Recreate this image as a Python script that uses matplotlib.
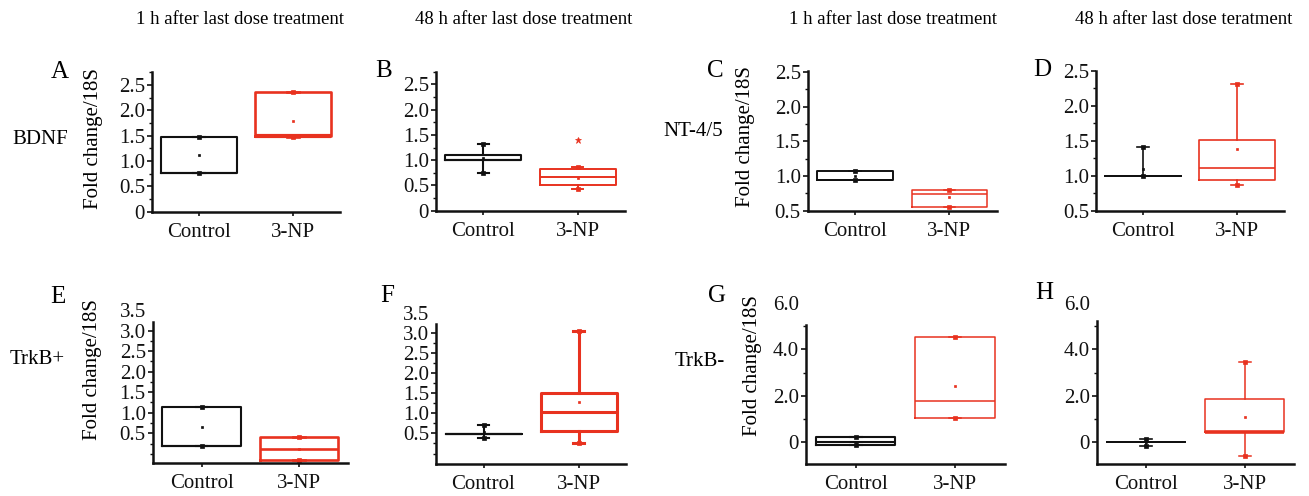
import matplotlib
matplotlib.use("Agg")
import matplotlib.pyplot as plt

plt.rcParams['font.family'] = ['Liberation Serif', 'DejaVu Serif']

W, H = 1309, 496

groups = ["Control", "3-NP"]
panels = ["A", "B", "C", "D", "E", "F", "G", "H"]
col_titles = ["1 h after last dose treatment", "48 h after last dose treatment",
              "1 h after last dose treatment", "48 h after last dose teratment"]
row_labels = ["BDNF", "NT-4/5", "TrkB+", "TrkB-"]

# box statistics, one value per panel A..H
ctrl_q1 = [0.76, 1.00, 0.94, 1.00, 0.20, 0.48, -0.14, 0.00]
ctrl_med = [0.76, 1.00, 0.94, 1.00, 0.20, 0.48, 0.00, 0.00]
ctrl_q3 = [1.47, 1.11, 1.08, 1.00, 1.13, 0.48, 0.19, 0.00]
ctrl_lo = [0.76, 0.74, 0.94, 1.00, 0.20, 0.38, -0.14, -0.14]
ctrl_hi = [1.47, 1.32, 1.08, 1.41, 1.13, 0.71, 0.19, 0.14]
ctrl_mean = [1.11, 1.04, 1.00, 1.09, 0.66, 0.54, 0.00, 0.03]

np_q1 = [1.49, 0.50, 0.56, 0.94, -0.15, 0.55, 1.04, 0.46]
np_med = [1.50, 0.66, 0.74, 1.11, 0.11, 1.02, 1.76, 0.46]
np_q3 = [2.36, 0.82, 0.80, 1.51, 0.42, 1.50, 4.53, 1.87]
np_lo = [1.47, 0.43, 0.56, 0.87, -0.15, 0.27, 1.04, -0.57]
np_hi = [2.37, 0.87, 0.80, 2.31, 0.42, 3.05, 4.53, 3.47]
np_mean = [1.79, 0.65, 0.70, 1.38, 0.13, 1.28, 2.41, 1.10]
np_out = [[], [1.40], [], [], [], [], [], []]

# y axes
ylims = [(0, 2.76), (0, 2.75), (0.5, 2.52), (0.5, 2.5),
         (-0.23, 3.5), (-0.26, 3.5), (-0.96, 6.0), (-0.94, 6.0)]
spine_top = [2.76, 2.75, 2.52, 2.5, 3.22, 3.23, 5.07, 5.2]
ticks_ab = [0, 0.5, 1.0, 1.5, 2.0, 2.5]
ticks_cd = [0.5, 1.0, 1.5, 2.0, 2.5]
ticks_ef = [0.5, 1.0, 1.5, 2.0, 2.5, 3.0, 3.5]
ticks_gh = [0, 2, 4, 6]
labels_ab = ["0", "0.5", "1.0", "1.5", "2.0", "2.5"]
labels_cd = ["0.5", "1.0", "1.5", "2.0", "2.5"]
labels_ef = ["0.5", "1.0", "1.5", "2.0", "2.5", "3.0", "3.5"]
labels_gh = ["0", "2.0", "4.0", "6.0"]
minor_ab = [0.25, 0.75, 1.25, 1.75, 2.25, 2.75]
minor_cd = [0.75, 1.25, 1.75, 2.25]
minor_ef = [0, 0.25, 0.75, 1.25, 1.75, 2.25, 2.75]
minor_gh = [1, 3, 5]
majors = [ticks_ab, ticks_ab, ticks_cd, ticks_cd, ticks_ef, ticks_ef, ticks_gh, ticks_gh]
major_labels = [labels_ab, labels_ab, labels_cd, labels_cd, labels_ef, labels_ef, labels_gh, labels_gh]
minors = [minor_ab, minor_ab, minor_cd, minor_cd, minor_ef, minor_ef, minor_gh, minor_gh]

# layout in pixels: left, right, bottom, top
ax_px = [(152, 340, 211.7, 71.8), (436, 625, 210.7, 71.7),
         (807.7, 996.7, 210.7, 70.7), (1096, 1284, 210.7, 70.7),
         (152.7, 348, 463.3, 310), (436, 626, 464, 312.7),
         (805.7, 1005, 464, 303.3), (1096.7, 1294, 464.3, 302.7)]
letter_px = [(60, 72), (384, 71), (715, 71), (1042, 70),
             (58, 297), (387, 296), (717, 296), (1044, 293)]
ylabel_xy = {"A": (-0.26, 0.525), "C": (-0.279, 0.529),
             "E": (-0.261, 0.609), "G": (-0.221, 0.611)}

black = "#111111"
red = "#e8321f"
lw_ctrl = [1.5, 1.5, 1.4, 1.2, 1.5, 1.5, 1.5, 1.2]
lw_np = [1.9, 1.4, 1.1, 1.2, 1.9, 2.2, 1.1, 1.1]
mlw_np = [3.0, 1.4, 1.1, 1.2, 1.9, 2.2, 1.1, 2.6]

fig = plt.figure(figsize=(W / 100, H / 100), dpi=100)

for i, name in enumerate(panels):
    l, r, b, t = ax_px[i]
    ax = fig.add_axes([l / W, 1 - b / H, (r - l) / W, (b - t) / H])
    ax.patch.set_visible(False)

    boxes = [
        (dict(label=groups[0], q1=ctrl_q1[i], med=ctrl_med[i], q3=ctrl_q3[i],
              whislo=ctrl_lo[i], whishi=ctrl_hi[i], mean=ctrl_mean[i], fliers=[]),
         black, lw_ctrl[i], lw_ctrl[i]),
        (dict(label=groups[1], q1=np_q1[i], med=np_med[i], q3=np_q3[i],
              whislo=np_lo[i], whishi=np_hi[i], mean=np_mean[i], fliers=np_out[i]),
         red, lw_np[i], mlw_np[i]),
    ]
    for j, (st, c, lw, mlw) in enumerate(boxes):
        pos = j + 1
        ax.bxp([st], positions=[pos], widths=0.8, capwidths=[0.12],
               showmeans=True, manage_ticks=False,
               boxprops=dict(color=c, lw=lw),
               medianprops=dict(color=c, lw=mlw),
               whiskerprops=dict(color=c, lw=lw),
               capprops=dict(color=c, lw=lw),
               meanprops=dict(marker="s", markersize=2.0, markerfacecolor=c,
                              markeredgecolor=c, markeredgewidth=0.5),
               flierprops=dict(marker="*", markersize=5, markerfacecolor=c,
                               markeredgecolor=c, markeredgewidth=0.5,
                               linestyle="none"))
        ax.plot([pos, pos], [st["whislo"], st["whishi"]], "s", ms=2.2, mew=0.5,
                color=c, ls="none")

    ax.set_xlim(0.5, 2.5)
    ax.set_ylim(*ylims[i])
    ax.spines[["top", "right"]].set_visible(False)
    ax.spines["left"].set_bounds(ylims[i][0], spine_top[i])
    for s in ["left", "bottom"]:
        ax.spines[s].set_linewidth(1.8)
        ax.spines[s].set_color(black)
    ax.set_xticks([1, 2], groups)
    ax.set_yticks(majors[i], major_labels[i])
    ax.set_yticks(minors[i], minor=True)
    ax.tick_params(axis="x", direction="out", length=3, width=1.2, pad=5,
                   labelsize=15, colors=black)
    ax.tick_params(axis="y", which="major", direction="out", length=3.5,
                   width=1.2, pad=1.5, labelsize=15, colors=black)
    ax.tick_params(axis="y", which="minor", direction="out", length=2,
                   width=1.0, colors=black)
    for tk, v in zip(ax.yaxis.get_major_ticks(), majors[i]):
        if v > spine_top[i] + 1e-6:
            tk.tick1line.set_visible(False)

    if name in ylabel_xy:
        ax.set_ylabel("Fold change/18S", fontsize=15)
        ax.yaxis.set_label_coords(*ylabel_xy[name])

    lx, ly = letter_px[i]
    fig.text(lx / W, 1 - ly / H, name, fontsize=18, ha="center", va="center")

title_px = [(240, 20), (524, 20), (893, 20), (1184, 20)]
for (x, y), s in zip(title_px, col_titles):
    fig.text(x / W, 1 - y / H, s, fontsize=13.5, ha="center", va="center")

row_px = [(12, 139), (663, 132), (10, 360), (675, 362)]
for (x, y), s in zip(row_px, row_labels):
    fig.text(x / W, 1 - y / H, s, fontsize=15, ha="left", va="center")

fig.savefig("out.png", dpi=100)
